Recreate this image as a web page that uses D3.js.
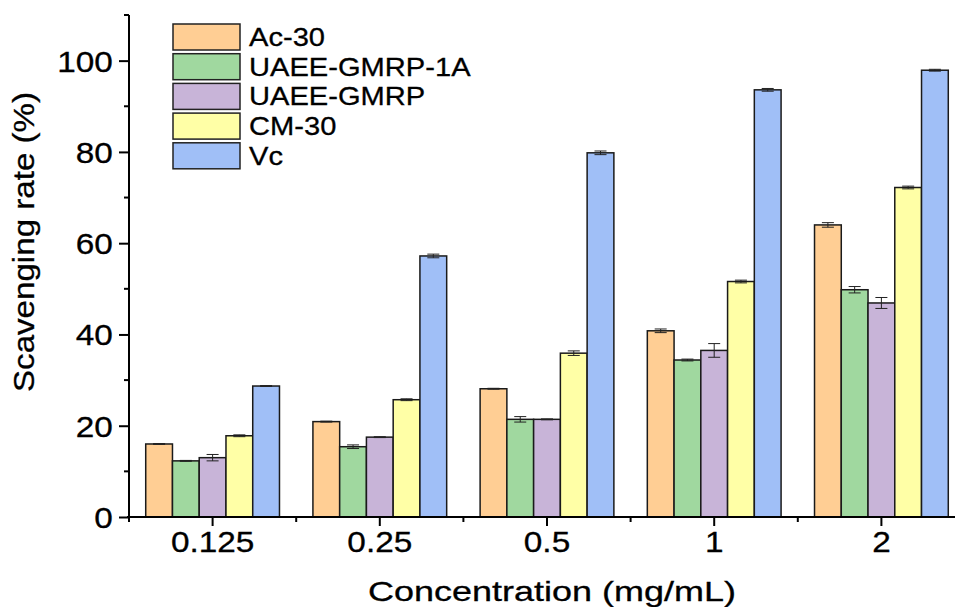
<!DOCTYPE html>
<html>
<head>
<meta charset="utf-8">
<script src="https://cdn.jsdelivr.net/npm/d3@7"></script>
<style>
  body { margin: 0; background: #fff; }
  text { font-family: "Liberation Sans", Arial, sans-serif; fill: #000; stroke: #000; stroke-width: 0.3px; }
</style>
</head>
<body>
<svg id="chart"></svg>
<script>
// concentrations (mg/mL)
var categories = ["0.125", "0.25", "0.5", "1", "2"];
var seriesNames = ["Ac-30", "UAEE-GMRP-1A", "UAEE-GMRP", "CM-30", "Vc"];
var seriesColors = ["#FFCE94", "#A0D89F", "#C8B4D8", "#FFFFA6", "#A0BFF7"];

// scavenging rate (%) per series
var ac30 = [16.0, 20.9, 28.1, 40.8, 64.0];
var gmrp1a = [12.3, 15.4, 21.4, 34.4, 49.8];
var gmrp = [13.0, 17.5, 21.4, 36.5, 46.9];
var cm30 = [17.8, 25.7, 35.9, 51.6, 72.2];
var vc = [28.7, 57.2, 79.8, 93.6, 97.9];

// error bars (+/-)
var ac30Err = [0.1, 0.1, 0.1, 0.4, 0.5];
var gmrp1aErr = [0.1, 0.4, 0.6, 0.2, 0.7];
var gmrpErr = [0.7, 0.1, 0.1, 1.5, 1.2];
var cm30Err = [0.2, 0.2, 0.5, 0.3, 0.3];
var vcErr = [0.1, 0.4, 0.4, 0.3, 0.2];

var yTicks = [0, 20, 40, 60, 80, 100];
var yMinorTicks = [10, 30, 50, 70, 90, 110];

var values = [ac30, gmrp1a, gmrp, cm30, vc];
var errors = [ac30Err, gmrp1aErr, gmrpErr, cm30Err, vcErr];

var rows = [];
seriesNames.forEach(function (s, si) {
    categories.forEach(function (c, ci) {
        rows.push({ cat: c, series: s, si: si, v: values[si][ci], e: errors[si][ci] });
    });
});

var W = 955, H = 607;
// note: "top" is taken by window.top, so plot edges get their own names
var plotLeft = 129, plotRight = 965, plotTop = 15, plotBottom = 517;

var svg = d3.select("#chart").attr("width", W).attr("height", H);

var x = d3.scaleBand().domain(categories).range([plotLeft, plotRight])
    .paddingInner(0.2).paddingOuter(0.1);
var xs = d3.scaleBand().domain(seriesNames).range([0, x.bandwidth()]);
var y = d3.scaleLinear().domain([0, 110]).range([plotBottom, plotTop]);

// bars
var bars = svg.append("g");
bars.selectAll("rect")
    .data(rows)
    .enter()
    .append("rect")
    .attr("x", function (d) { return x(d.cat) + xs(d.series); })
    .attr("y", function (d) { return y(d.v); })
    .attr("width", xs.bandwidth())
    .attr("height", function (d) { return y(0) - y(d.v); })
    .style("fill", function (d) { return seriesColors[d.si]; })
    .style("stroke", "#1a1a1a")
    .style("stroke-width", 1.5);

// error bars
var errG = svg.append("g").style("stroke", "#222").style("stroke-width", 1);
rows.forEach(function (d) {
    var cx = x(d.cat) + xs(d.series) + xs.bandwidth() / 2;
    errG.append("line").attr("x1", cx).attr("x2", cx)
        .attr("y1", y(d.v + d.e)).attr("y2", y(d.v - d.e));
    [d.v + d.e, d.v - d.e].forEach(function (v) {
        errG.append("line").attr("x1", cx - 6).attr("x2", cx + 6)
            .attr("y1", y(v)).attr("y2", y(v));
    });
});

// y axis
var yAxis = svg.append("g").attr("transform", "translate(" + plotLeft + ",0)");
yAxis.call(d3.axisLeft(y).tickValues(yTicks).tickSize(10).tickPadding(0));
yAxis.select(".domain").attr("d", "M0," + plotTop + "V" + plotBottom).style("stroke-width", 2);
yAxis.selectAll(".tick line").style("stroke-width", 2);
yAxis.selectAll(".tick text")
    .attr("x", -14).attr("dy", "0.36em")
    .attr("transform", "scale(1.15,1)")
    .style("font-size", "29px");
yAxis.selectAll(".minor")
    .data(yMinorTicks)
    .enter()
    .append("line")
    .attr("class", "minor")
    .attr("x1", -5).attr("x2", 0)
    .attr("y1", function (d) { return y(d); })
    .attr("y2", function (d) { return y(d); })
    .style("stroke", "#000").style("stroke-width", 2);

// x axis
var xAxis = svg.append("g").attr("transform", "translate(0," + plotBottom + ")");
xAxis.call(d3.axisBottom(x).tickSize(9).tickSizeOuter(0));
xAxis.select(".domain").attr("d", "M" + (plotLeft - 2) + ",0H" + plotRight).style("stroke-width", 2);
xAxis.selectAll(".tick line").style("stroke-width", 2);
xAxis.selectAll(".tick text")
    .attr("y", 35).attr("dy", null)
    .attr("transform", "scale(1.15,1)")
    .style("font-size", "29px");
var bounds = categories.map(function (c) { return x(c) - x.step() * x.paddingInner() / 2; });
bounds.push(plotRight);
bounds[0] = plotLeft;
xAxis.selectAll(".minor")
    .data(bounds)
    .enter()
    .append("line")
    .attr("class", "minor")
    .attr("x1", function (d) { return d; })
    .attr("x2", function (d) { return d; })
    .attr("y1", 0).attr("y2", 5)
    .style("stroke", "#000").style("stroke-width", 2);

// axis titles
svg.append("text")
    .attr("x", 552).attr("y", 601)
    .attr("text-anchor", "middle")
    .attr("textLength", 368).attr("lengthAdjust", "spacingAndGlyphs")
    .style("font-size", "28px")
    .text("Concentration (mg/mL)");

svg.append("text")
    .attr("transform", "translate(34,242) rotate(-90)")
    .attr("text-anchor", "middle")
    .attr("textLength", 300).attr("lengthAdjust", "spacingAndGlyphs")
    .style("font-size", "29px")
    .text("Scavenging rate (%)");

// legend
var legend = svg.append("g");
var item = legend.selectAll("g")
    .data(seriesNames)
    .enter()
    .append("g")
    .attr("transform", function (d, i) { return "translate(173," + (24 + i * 29.7) + ")"; });
item.append("rect")
    .attr("width", 67).attr("height", 26)
    .style("fill", function (d, i) { return seriesColors[i]; })
    .style("stroke", "#222").style("stroke-width", 1.5);
item.append("text")
    .attr("transform", "translate(76,22) scale(1.12,1)")
    .style("font-size", "26px")
    .text(function (d) { return d; });
</script>
</body>
</html>
